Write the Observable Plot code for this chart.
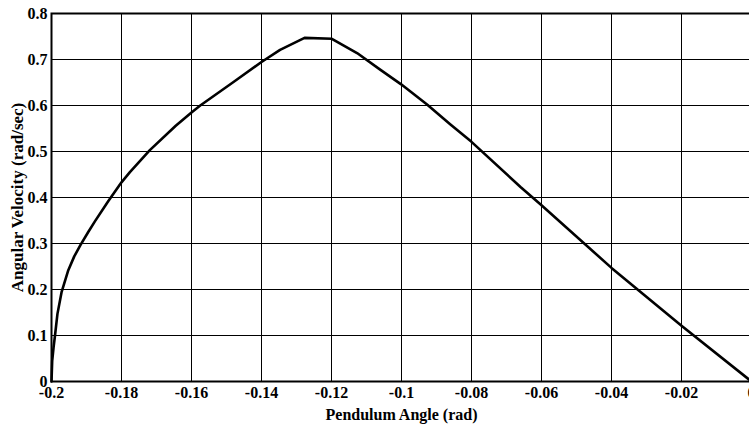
<!DOCTYPE html>
<html>
<head>
<meta charset="utf-8">
<script src="https://cdn.jsdelivr.net/npm/d3@7"></script>
<script src="https://cdn.jsdelivr.net/npm/@observablehq/plot@0.6"></script>
<style>
  html, body { margin: 0; padding: 0; background: #fff; overflow: hidden; width: 749px; height: 428px; }
  #chart { width: 749px; height: 428px; overflow: hidden; }
  #chart svg { display: block; max-width: none !important; }
</style>
</head>
<body>
<div id="chart"></div>
<script>
const angle = [-0.2, -0.1998, -0.1994, -0.199, -0.1983, -0.1971, -0.1952, -0.1935, -0.1917, -0.1895, -0.1876, -0.1838, -0.18, -0.1776, -0.1719, -0.1645, -0.16, -0.1575, -0.148, -0.1401, -0.1347, -0.1277, -0.1199, -0.1127, -0.1061, -0.1001, -0.0927, -0.0861, -0.08, -0.066, -0.06, -0.04, -0.02, 0];
const velocity = [0, 0.045, 0.075, 0.1, 0.147, 0.195, 0.242, 0.272, 0.297, 0.325, 0.348, 0.392, 0.433, 0.455, 0.503, 0.556, 0.585, 0.600, 0.651, 0.694, 0.721, 0.747, 0.745, 0.714, 0.678, 0.646, 0.602, 0.559, 0.521, 0.423, 0.383, 0.247, 0.121, 0];
const xTicks = [-0.2, -0.18, -0.16, -0.14, -0.12, -0.1, -0.08, -0.06, -0.04, -0.02, 0];
const yTicks = [0, 0.1, 0.2, 0.3, 0.4, 0.5, 0.6, 0.7, 0.8];
const xLabel = "Pendulum Angle (rad)";
const yLabel = "Angular Velocity (rad/sec)";

const data = angle.map((a, i) => ({angle: a, velocity: velocity[i]}));
const fmt = d => String(+d.toFixed(2));

const W = 755, H = 428, ML = 51, MR = 4, MT = 13, MB = 47;

const chart = Plot.plot({
  width: W,
  height: H,
  marginLeft: ML,
  marginRight: MR,
  marginTop: MT,
  marginBottom: MB,
  style: {fontFamily: "'Liberation Serif', 'Times New Roman', serif", fontWeight: "bold", fontSize: "16px", color: "#000", background: "#fff", maxWidth: "none"},
  x: {domain: [-0.2, 0], ticks: xTicks, tickFormat: fmt, label: null},
  y: {domain: [0, 0.8], ticks: yTicks, tickFormat: fmt, label: null},
  marks: [
    Plot.gridX(xTicks, {stroke: "#ababab", strokeOpacity: 1, strokeWidth: 1}),
    Plot.gridY(yTicks, {stroke: "#ababab", strokeOpacity: 1, strokeWidth: 1}),
    // inward ticks on all sides
    Plot.tickX(xTicks, {x: d => d, y1: 0, y2: 0.012, stroke: "#000", strokeWidth: 1}),
    Plot.tickX(xTicks, {x: d => d, y1: 0.8, y2: 0.788, stroke: "#000", strokeWidth: 1}),
    Plot.tickY(yTicks, {y: d => d, x1: -0.2, x2: -0.1985, stroke: "#000", strokeWidth: 1}),
    Plot.tickY(yTicks, {y: d => d, x1: 0, x2: -0.0015, stroke: "#000", strokeWidth: 1}),
    Plot.frame({stroke: "#000", strokeWidth: 2}),
    Plot.axisX(xTicks, {tickSize: 0, tickPadding: 5, tickFormat: fmt, fontSize: 16, fontWeight: "bold", label: null}),
    Plot.axisY(yTicks, {tickSize: 0, tickPadding: 4, tickFormat: fmt, fontSize: 16, fontWeight: "bold", label: null}),
    Plot.line(data, {x: "angle", y: "velocity", stroke: "#000", strokeWidth: 2.6, strokeLinejoin: "round"}),
    Plot.text([xLabel], {frameAnchor: "bottom", dy: 33, text: d => d, fontSize: 16, fontWeight: "bold", fill: "#000", lineAnchor: "middle"}),
    Plot.text([yLabel], {frameAnchor: "left", dx: -34, rotate: -90, textAnchor: "middle", lineAnchor: "middle", text: d => d, fontSize: 17, fontWeight: "bold", fill: "#000"})
  ]
});
document.getElementById("chart").appendChild(chart);
</script>
</body>
</html>
